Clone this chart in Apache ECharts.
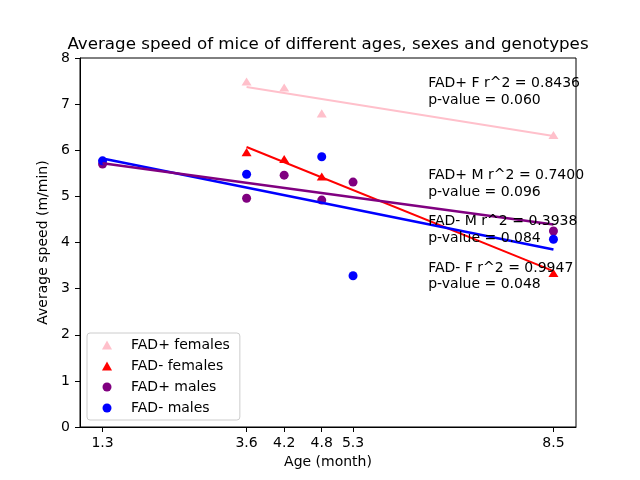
<!DOCTYPE html>
<html>
<head>
<meta charset="utf-8">
<script src="https://cdn.jsdelivr.net/npm/echarts@6/dist/echarts.min.js"></script>
<style>
  html, body { margin: 0; padding: 0; background: #fff; }
  #chart { width: 640px; height: 480px; }
</style>
</head>
<body>
<div id="chart"></div>
<script>
// ages shown as ticks on the x axis
var ageTicks = [1.3, 3.6, 4.2, 4.8, 5.3, 8.5];

// measured points [age, speed]
var fadPlusFemales = [[3.6, 7.49], [4.2, 7.36], [4.8, 6.80], [8.5, 6.33]];
var fadMinusFemales = [[3.6, 5.96], [4.2, 5.81], [4.8, 5.43], [8.5, 3.34]];
var fadPlusMales = [[1.3, 5.70], [3.6, 4.96], [4.2, 5.46], [4.8, 4.92], [5.3, 5.31], [8.5, 4.25]];
var fadMinusMales = [[1.3, 5.77], [3.6, 5.48], [4.8, 5.86], [5.3, 3.28], [8.5, 4.07]];

// fitted lines, end points
var fitPlusF = [[3.6, 7.37], [8.5, 6.31]];
var fitMinusF = [[3.6, 6.07], [8.5, 3.38]];
var fitPlusM = [[1.3, 5.72], [8.5, 4.39]];
var fitMinusM = [[1.3, 5.82], [8.5, 3.85]];

// annotation texts and their anchor (bottom-left) in data units
var noteTexts = [
  'FAD+ F r^2 = 0.8436\np-value = 0.060',
  'FAD+ M r^2 = 0.7400\np-value = 0.096',
  'FAD- M r^2 = 0.3938\np-value = 0.084',
  'FAD- F r^2 = 0.9947\np-value = 0.048'
];
var notePos = [[6.5, 7.0], [6.5, 5.0], [6.5, 4.0], [6.5, 3.0]];

var font = 'DejaVu Sans';
var triangle = 'path://M10,0L20,18L0,18Z';
var chart = echarts.init(document.getElementById('chart'));

function scatter(name, data, color, symbol, size) {
  return {
    name: name, type: 'scatter', data: data,
    symbol: symbol, symbolSize: size, symbolKeepAspect: true, z: 2,
    itemStyle: { color: color, opacity: 1 }
  };
}

function fit(name, data, color, width) {
  return {
    name: name, type: 'line', data: data,
    showSymbol: false, symbol: 'none', z: 3, silent: true,
    lineStyle: { color: color, width: width }
  };
}

var notes = {
  name: 'notes', type: 'scatter', symbolSize: 0, z: 5, silent: true,
  itemStyle: { opacity: 1 },
  data: notePos.map(function (p, i) {
    return { value: p, label: { formatter: noteTexts[i] } };
  }),
  label: {
    show: true, position: [0, 4], align: 'left', verticalAlign: 'bottom',
    fontFamily: font, fontSize: 14, lineHeight: 16.5, color: '#000', opacity: 1
  }
};

chart.setOption({
  animation: false,
  title: {
    text: 'Average speed of mice of different ages, sexes and genotypes',
    left: 323, top: 31, textAlign: 'center',
    textStyle: { fontFamily: font, fontSize: 16.7, fontWeight: 'normal', color: '#000' }
  },
  grid: {
    left: 80, right: 64, top: 58, bottom: 53,
    show: true, borderColor: '#000', borderWidth: 1, backgroundColor: 'transparent'
  },
  legend: {
    data: [
      { name: 'FAD+ females', icon: triangle },
      { name: 'FAD- females', icon: triangle },
      { name: 'FAD+ males', icon: 'circle' },
      { name: 'FAD- males', icon: 'circle' }
    ],
    orient: 'vertical', left: 87, top: 333,
    padding: [4, 10, 4, 15], itemGap: 5,
    itemWidth: 38, itemHeight: 9, symbolKeepAspect: true,
    backgroundColor: 'rgba(255,255,255,0.8)',
    borderColor: '#cccccc', borderWidth: 1, borderRadius: 3,
    textStyle: { fontFamily: font, fontSize: 14, lineHeight: 16, color: '#000' }
  },
  xAxis: {
    type: 'value', min: 0.94, max: 8.86,
    name: 'Age (month)', nameLocation: 'middle', nameGap: 27,
    nameTextStyle: { fontFamily: font, fontSize: 14, color: '#000' },
    axisLine: { show: true, onZero: false, lineStyle: { color: '#000', width: 1 } },
    axisTick: { show: true, length: 5, lineStyle: { color: '#000' }, customValues: ageTicks },
    axisLabel: {
      customValues: ageTicks, margin: 9,
      fontFamily: font, fontSize: 14, color: '#000',
      formatter: function (v) { return v.toFixed(1); }
    },
    splitLine: { show: false }
  },
  yAxis: {
    type: 'value', min: 0, max: 8, interval: 1,
    name: 'Average speed (m/min)', nameLocation: 'middle', nameGap: 24,
    nameTextStyle: { fontFamily: font, fontSize: 14, color: '#000' },
    axisLine: { show: true, lineStyle: { color: '#000', width: 1 } },
    axisTick: { show: true, length: 5, lineStyle: { color: '#000' } },
    axisLabel: { margin: 10, fontFamily: font, fontSize: 14, color: '#000' },
    splitLine: { show: false }
  },
  series: [
    scatter('FAD+ females', fadPlusFemales, '#ffc0cb', triangle, [10, 9]),
    scatter('FAD- females', fadMinusFemales, '#ff0000', triangle, [10, 9]),
    scatter('FAD+ males', fadPlusMales, '#800080', 'circle', 9),
    scatter('FAD- males', fadMinusMales, '#0000ff', 'circle', 9),
    fit('fit FAD+ F', fitPlusF, '#ffc0cb', 2),
    fit('fit FAD- F', fitMinusF, '#ff0000', 2),
    fit('fit FAD- M', fitMinusM, '#0000ff', 2.6),
    fit('fit FAD+ M', fitPlusM, '#800080', 2.6),
    notes
  ]
});
</script>
</body>
</html>
